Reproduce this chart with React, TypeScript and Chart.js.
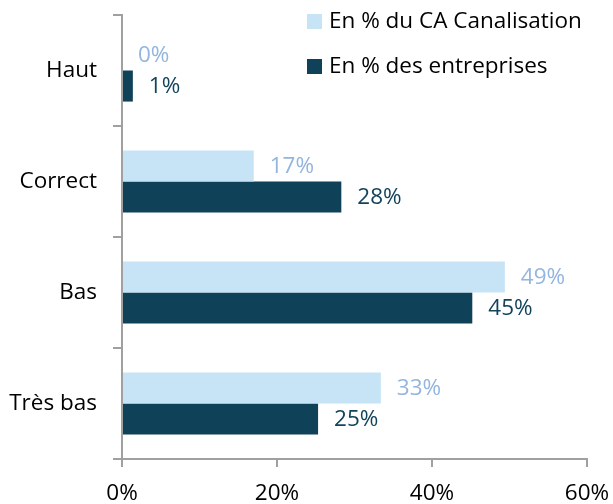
import React, { useEffect, useRef } from "react";
import { Chart, registerables } from "chart.js";

Chart.register(...registerables);

const categories = ["Haut", "Correct", "Bas", "Très bas"];
const caValues = [0, 17, 49.4, 33.4];
const entrepriseValues = [1.4, 28.3, 45.2, 25.3];
const xTickValues = [0, 20, 40, 60];
const seriesNames = ["En % du CA Canalisation", "En % des entreprises"];

const BAR_COLORS = ["#c6e4f6", "#0f4259"];
const LABEL_COLORS = ["#93b5df", "#12445c"];
const FONT_FAMILY = "'Open Sans', Lato, sans-serif";
const FONT_SIZE = 22.5;

const dataLabelPlugin = {
  id: "dataLabels",
  afterDatasetsDraw(chart: any) {
    const ctx = chart.ctx;
    ctx.save();
    ctx.font = `${FONT_SIZE}px ${FONT_FAMILY}`;
    ctx.textAlign = "left";
    ctx.textBaseline = "middle";
    chart.data.datasets.forEach((ds: any, di: number) => {
      const meta = chart.getDatasetMeta(di);
      meta.data.forEach((el: any, i: number) => {
        const v = ds.data[i];
        ctx.fillStyle = LABEL_COLORS[di];
        ctx.fillText(`${Math.round(v)}%`, el.x + 16, el.y + 1);
      });
    });
    ctx.restore();
  },
};

const legendPlugin = {
  id: "customLegend",
  afterDraw(chart: any) {
    const ctx = chart.ctx;
    ctx.save();
    ctx.font = `${FONT_SIZE}px ${FONT_FAMILY}`;
    ctx.textAlign = "left";
    ctx.textBaseline = "middle";
    const x = 307;
    const rows = [22, 67];
    chart.data.datasets.forEach((ds: any, di: number) => {
      const y = rows[di];
      ctx.fillStyle = ds.backgroundColor;
      ctx.fillRect(x, y - 8, 15, 15);
      ctx.fillStyle = "#000000";
      ctx.fillText(ds.label, x + 22, y);
    });
    ctx.restore();
  },
};

export default function App() {
  const canvasRef = useRef<HTMLCanvasElement | null>(null);

  useEffect(() => {
    if (!canvasRef.current) return;
    const chart = new Chart(canvasRef.current, {
      type: "bar",
      data: {
        labels: categories,
        datasets: [
          {
            label: seriesNames[0],
            data: caValues,
            backgroundColor: BAR_COLORS[0],
            barPercentage: 1,
            categoryPercentage: 0.56,
          },
          {
            label: seriesNames[1],
            data: entrepriseValues,
            backgroundColor: BAR_COLORS[1],
            barPercentage: 1,
            categoryPercentage: 0.56,
          },
        ],
      },
      options: {
        indexAxis: "y",
        animation: false,
        responsive: false,
        maintainAspectRatio: false,
        layout: { padding: { top: 15, right: 26, left: 0, bottom: 0 } },
        plugins: {
          legend: { display: false },
          tooltip: { enabled: false },
        },
        scales: {
          x: {
            min: 0,
            max: 60,
            afterBuildTicks(scale: any) {
              scale.ticks = xTickValues.map((v) => ({ value: v }));
            },
            afterFit(scale: any) {
              scale.height = 45;
              scale.paddingLeft = 0;
              scale.paddingRight = 0;
            },
            border: { display: true, color: "#a0a0a0", width: 2 },
            grid: {
              display: true,
              drawOnChartArea: false,
              drawTicks: true,
              tickLength: 8,
              color: "#a0a0a0",
              lineWidth: 2,
            },
            ticks: {
              color: "#000000",
              font: { family: FONT_FAMILY, size: FONT_SIZE },
              padding: 13,
              maxRotation: 0,
              callback: (v: any) => `${v}%`,
            },
          },
          y: {
            afterFit(scale: any) {
              scale.width = 122;
              scale.paddingTop = 0;
              scale.paddingBottom = 0;
            },
            border: { display: true, color: "#a0a0a0", width: 2 },
            grid: {
              display: true,
              offset: true,
              drawOnChartArea: false,
              drawTicks: true,
              tickLength: 9,
              color: "#a0a0a0",
              lineWidth: 2,
            },
            ticks: {
              color: "#000000",
              font: { family: FONT_FAMILY, size: FONT_SIZE },
              padding: 16,
            },
          },
        },
      },
      plugins: [dataLabelPlugin, legendPlugin],
    });
    return () => chart.destroy();
  }, []);

  return (
    <div style={{ position: "fixed", left: 0, top: 0, width: 613, height: 504, background: "#ffffff" }}>
      <canvas ref={canvasRef} width={613} height={504} style={{ display: "block" }} />
    </div>
  );
}
